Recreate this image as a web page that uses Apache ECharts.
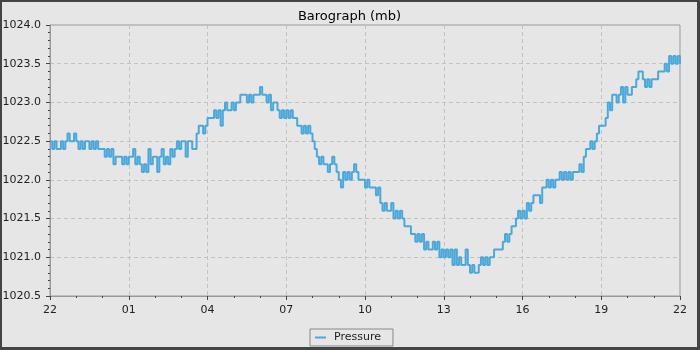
<!DOCTYPE html>
<html>
<head>
<meta charset="utf-8">
<script src="https://cdn.jsdelivr.net/npm/echarts@6/dist/echarts.min.js"></script>
<style>
  body { margin: 0; }
  #frame {
    width: 700px;
    height: 350px;
    box-sizing: border-box;
    border-style: solid;
    border-color: #444;
    border-width: 2px 3px 3px 2px;
    background: #e6e6e6;
  }
  #chart { width: 695px; height: 345px; }
</style>
</head>
<body>
<div id="frame"><div id="chart"></div></div>
<script>
// readings every 5 minutes, starting at 22:00
const sampleMinutes = 5
const xHourLabels = ['22', '01', '04', '07', '10', '13', '16', '19', '22']
const pressure = [
  1022.5,1022.4,1022.5,1022.4,1022.4,1022.5,1022.4,1022.5,1022.6,1022.5,1022.5,1022.6,
  1022.5,1022.4,1022.5,1022.4,1022.5,1022.5,1022.4,1022.5,1022.4,1022.5,1022.4,1022.4,
  1022.4,1022.3,1022.4,1022.3,1022.4,1022.2,1022.3,1022.3,1022.3,1022.2,1022.3,1022.2,
  1022.3,1022.3,1022.4,1022.2,1022.3,1022.2,1022.1,1022.2,1022.1,1022.4,1022.2,1022.3,
  1022.3,1022.1,1022.3,1022.4,1022.2,1022.3,1022.2,1022.4,1022.3,1022.4,1022.5,1022.4,
  1022.5,1022.5,1022.3,1022.5,1022.5,1022.4,1022.4,1022.6,1022.7,1022.7,1022.6,1022.7,
  1022.8,1022.8,1022.8,1022.9,1022.8,1022.9,1022.7,1022.9,1023.0,1022.9,1022.9,1023.0,
  1022.9,1023.0,1023.0,1023.1,1023.1,1023.1,1023.0,1023.1,1023.0,1023.1,1023.1,1023.1,
  1023.2,1023.1,1023.1,1023.0,1023.1,1022.9,1023.0,1023.0,1022.9,1022.8,1022.9,1022.8,
  1022.9,1022.8,1022.9,1022.8,1022.8,1022.7,1022.7,1022.6,1022.7,1022.6,1022.7,1022.6,
  1022.5,1022.4,1022.3,1022.2,1022.3,1022.2,1022.2,1022.1,1022.2,1022.3,1022.2,1022.1,
  1022.0,1021.9,1022.1,1022.0,1022.1,1022.0,1022.1,1022.2,1022.1,1022.0,1022.0,1022.0,
  1021.9,1022.0,1021.9,1021.9,1021.9,1021.8,1021.9,1021.7,1021.6,1021.7,1021.6,1021.6,
  1021.7,1021.5,1021.6,1021.5,1021.6,1021.5,1021.4,1021.4,1021.4,1021.3,1021.3,1021.2,
  1021.3,1021.2,1021.3,1021.1,1021.2,1021.1,1021.1,1021.2,1021.1,1021.2,1021.0,1021.1,
  1021.0,1021.1,1021.0,1021.1,1020.9,1021.1,1020.9,1021.0,1020.9,1020.9,1021.1,1020.9,
  1020.8,1020.9,1020.8,1020.8,1020.9,1021.0,1020.9,1021.0,1020.9,1021.0,1021.0,1021.1,
  1021.1,1021.1,1021.1,1021.2,1021.3,1021.2,1021.3,1021.4,1021.4,1021.5,1021.6,1021.5,
  1021.6,1021.5,1021.7,1021.6,1021.7,1021.8,1021.8,1021.8,1021.7,1021.9,1021.9,1022.0,
  1021.9,1022.0,1021.9,1022.0,1022.0,1022.1,1022.0,1022.1,1022.0,1022.1,1022.0,1022.1,
  1022.1,1022.1,1022.2,1022.1,1022.3,1022.4,1022.4,1022.5,1022.4,1022.5,1022.6,1022.7,
  1022.7,1022.7,1022.8,1023.0,1022.9,1023.1,1023.1,1023.0,1023.1,1023.2,1023.0,1023.2,
  1023.1,1023.1,1023.2,1023.2,1023.3,1023.4,1023.4,1023.3,1023.2,1023.3,1023.2,1023.3,
  1023.3,1023.3,1023.4,1023.4,1023.4,1023.5,1023.4,1023.6,1023.5,1023.6,1023.5,1023.6,
  1023.5
]

const chart = echarts.init(document.getElementById('chart'))

const font = 'DejaVu Sans'
const lineColor = '#4da8da'

const option = {
  animation: false,
  title: {
    text: 'Barograph (mb)',
    left: 'center',
    top: 3,
    textStyle: { fontFamily: font, fontSize: 13, fontWeight: 'normal', color: '#000' }
  },
  legend: {
    data: ['Pressure'],
    left: 308,
    top: 327,
    icon: 'rect',
    itemWidth: 11,
    itemHeight: 2,
    borderColor: '#888',
    borderWidth: 1,
    padding: [3, 12, 3, 5],
    textStyle: { fontFamily: font, fontSize: 11, color: '#222', padding: [0, 0, 0, 3] }
  },
  grid: {
    left: 48,
    right: 17,
    top: 23,
    bottom: 51,
    outerBoundsMode: 'none',
    show: true,
    borderColor: '#999',
    borderWidth: 1,
    backgroundColor: 'transparent'
  },
  xAxis: {
    type: 'value',
    min: 0,
    max: 1440,
    interval: 180,
    axisLine: { lineStyle: { color: '#999' } },
    axisTick: { length: 4, lineStyle: { color: '#444' } },
    minorTick: { show: true, splitNumber: 3, length: 2, lineStyle: { color: '#444' } },
    axisLabel: {
      fontFamily: font, fontSize: 11, color: '#222', margin: 9,
      formatter: v => xHourLabels[Math.round(v / 180)]
    },
    splitLine: { show: true, lineStyle: { color: '#c2c2c2', type: [4, 3] } }
  },
  yAxis: {
    type: 'value',
    min: 1020.5,
    max: 1024,
    interval: 0.5,
    axisLine: { show: true, lineStyle: { color: '#999' } },
    axisTick: { show: true, length: 4, lineStyle: { color: '#444' } },
    minorTick: { show: true, splitNumber: 5, length: 2, lineStyle: { color: '#444' } },
    axisLabel: {
      fontFamily: font, fontSize: 11, color: '#222', margin: 9,
      formatter: v => v.toFixed(1)
    },
    splitLine: { show: true, lineStyle: { color: '#c2c2c2', type: [4, 3] } }
  },
  series: [
    {
      name: 'Pressure',
      type: 'line',
      step: 'end',
      showSymbol: false,
      data: pressure.map((p, i) => [i * sampleMinutes, p]),
      lineStyle: { width: 2, color: lineColor },
      itemStyle: { color: lineColor }
    }
  ]
}

chart.setOption(option)
</script>
</body>
</html>
